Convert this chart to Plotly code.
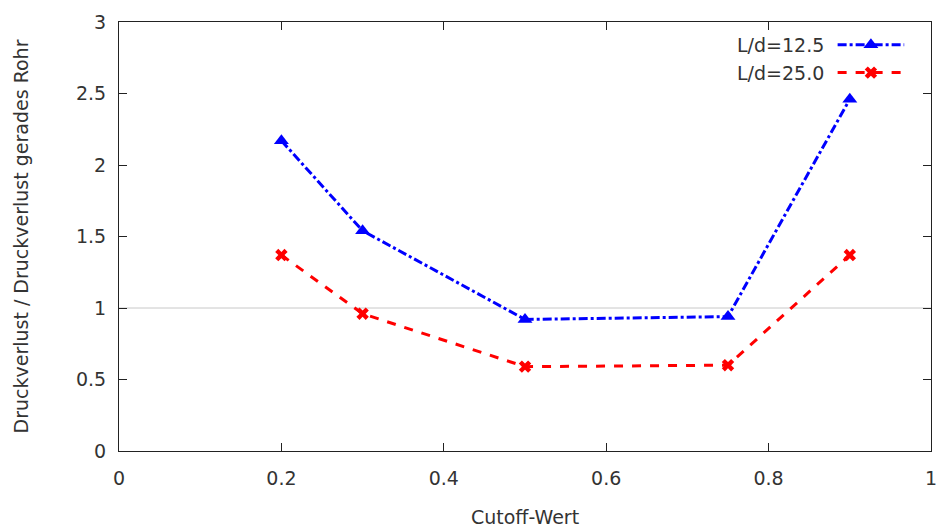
import plotly.graph_objects as go

# Cutoff values and normalised pressure loss for the two length ratios
cutoff = [0.2, 0.3, 0.5, 0.75, 0.9]
ld_125 = [2.17, 1.54, 0.92, 0.94, 2.46]
ld_250 = [1.37, 0.96, 0.59, 0.60, 1.37]

series_names = ["L/d=12.5", "L/d=25.0"]
series_colors = ["#0000ff", "#ff0000"]

FONT = "DejaVu Sans"
TXT = "#333333"

fig = go.Figure()

# reference line at ratio 1
fig.add_trace(go.Scatter(
    x=[0, 1], y=[1, 1], mode="lines",
    line=dict(color="#c8c8c8", width=1), showlegend=False, hoverinfo="skip"))

fig.add_trace(go.Scatter(
    x=cutoff, y=ld_125, mode="lines+markers", name=series_names[0],
    line=dict(color=series_colors[0], width=3, dash="dashdot"),
    marker=dict(symbol="triangle-up", size=13, color=series_colors[0]),
    showlegend=False))

fig.add_trace(go.Scatter(
    x=cutoff, y=ld_250, mode="lines+markers", name=series_names[1],
    line=dict(color=series_colors[1], width=3, dash="dash"),
    marker=dict(symbol="x", size=11, color=series_colors[1]),
    showlegend=False))

# key in the upper right corner: text, then line sample with marker
key_rows = [0.947, 0.882]
key_styles = [("dashdot", "triangle-up", 13), ("dash", "x", 11)]
for name, color, ky, (dash, sym, size) in zip(series_names, series_colors, key_rows, key_styles):
    fig.add_trace(go.Scatter(
        x=[0.885, 0.967], y=[ky, ky], mode="lines", xaxis="x2", yaxis="y2",
        line=dict(color=color, width=3, dash=dash),
        showlegend=False, hoverinfo="skip"))
    fig.add_trace(go.Scatter(
        x=[0.926], y=[ky], mode="markers", xaxis="x2", yaxis="y2",
        marker=dict(symbol=sym, size=size, color=color),
        showlegend=False, hoverinfo="skip"))
    fig.add_annotation(
        x=0.871, y=ky, xref="x2", yref="y2", text=name, showarrow=False,
        xanchor="right", yanchor="middle",
        font=dict(family=FONT, size=19, color=TXT))

axis_common = dict(
    showgrid=False, zeroline=False, showline=True, linecolor="#222222",
    linewidth=1, mirror="allticks", ticks="inside", ticklen=8,
    tickcolor="#222222", automargin=False,
    tickfont=dict(family=FONT, size=19, color=TXT))

fig.update_layout(
    width=943, height=530,
    margin=dict(l=119, r=12, t=22, b=79),
    paper_bgcolor="white", plot_bgcolor="white",
    xaxis=dict(range=[0, 1], tickvals=[0, 0.2, 0.4, 0.6, 0.8, 1],
               ticktext=["0", "0.2", "0.4", "0.6", "0.8", "1"],
               ticklabelstandoff=10,
               title=dict(text="Cutoff-Wert", standoff=22,
                          font=dict(family=FONT, size=19, color=TXT)),
               **axis_common),
    yaxis=dict(range=[0, 3], tickvals=[0, 0.5, 1, 1.5, 2, 2.5, 3],
               ticktext=["0", "0.5", "1", "1.5", "2", "2.5", "3"],
               ticklabelstandoff=8,
               title=dict(text="Druckverlust / Druckverlust gerades Rohr", standoff=42,
                          font=dict(family=FONT, size=19, color=TXT)),
               **axis_common),
    xaxis2=dict(range=[0, 1], overlaying="x", visible=False, fixedrange=True),
    yaxis2=dict(range=[0, 1], overlaying="y", visible=False, fixedrange=True),
    showlegend=False,
)

fig.write_html("out.html")
